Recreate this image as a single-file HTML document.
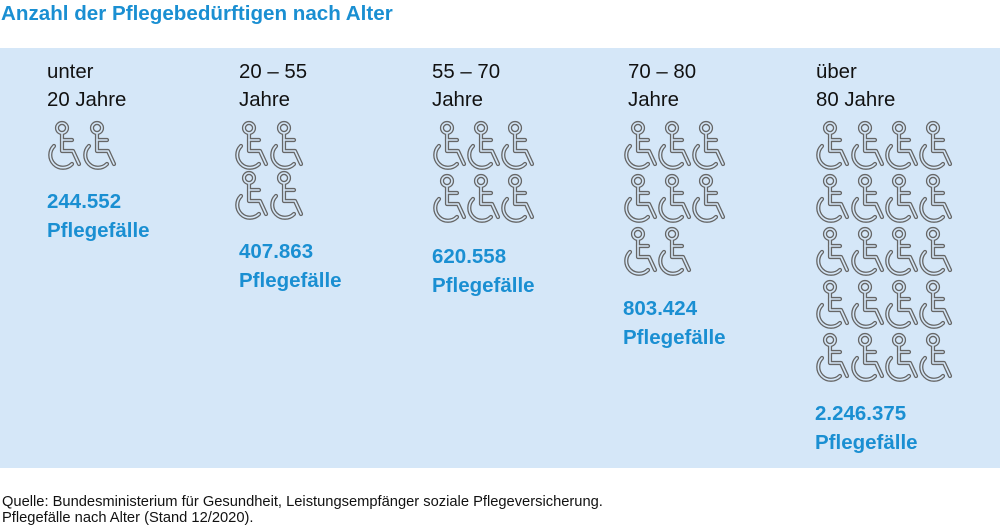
<!DOCTYPE html>
<html><head><meta charset="utf-8"><style>
body{margin:0;width:1000px;height:526px;background:#fff;font-family:"Liberation Sans",Arial,sans-serif;position:relative;overflow:hidden}
.t{position:absolute;left:1px;top:2px;font-size:20.6px;font-weight:bold;color:#1a8fd2}
.p{position:absolute;left:0;top:48px;width:1000px;height:420px;background:#d5e7f8}
.l{position:absolute;font-size:20.4px;line-height:28px;color:#111}
.n{position:absolute;font-size:20.5px;line-height:29px;font-weight:bold;color:#1a8fd2}
.f{position:absolute;left:2px;top:494px;font-size:14.7px;line-height:16px;color:#111}
svg{position:absolute;left:0;top:0}
</style></head><body>
<div class="t">Anzahl der Pflegebedürftigen nach Alter</div>
<div class="p"></div>
<svg width="1000" height="526">
<defs>
<g id="i">
 <g fill="none" stroke="#666" stroke-width="4.2" stroke-linecap="round" stroke-linejoin="round">
  <circle cx="15" cy="6" r="5"/>
  <path d="M15 12 V29 H26 L32 42"/>
  <path d="M15 18 H25"/>
  <path d="M7 24 A12.5 12.5 0 1 0 25 42"/>
 </g>
 <g fill="none" stroke="#d5e7f8" stroke-width="1.6" stroke-linecap="round" stroke-linejoin="round">
  <circle cx="15" cy="6" r="5"/>
  <path d="M15 12 V29 H26 L32 42"/>
  <path d="M15 18 H25"/>
  <path d="M7 24 A12.5 12.5 0 1 0 25 42"/>
 </g>
</g>
</defs>
<use href="#i" x="47" y="122"/><use href="#i" x="82" y="122"/>
<use href="#i" x="234" y="122"/><use href="#i" x="269" y="122"/>
<use href="#i" x="234" y="172"/><use href="#i" x="269" y="172"/>
<use href="#i" x="432" y="122"/><use href="#i" x="466" y="122"/><use href="#i" x="500" y="122"/>
<use href="#i" x="432" y="175"/><use href="#i" x="466" y="175"/><use href="#i" x="500" y="175"/>
<use href="#i" x="623" y="122"/><use href="#i" x="657" y="122"/><use href="#i" x="691" y="122"/>
<use href="#i" x="623" y="175"/><use href="#i" x="657" y="175"/><use href="#i" x="691" y="175"/>
<use href="#i" x="623" y="228"/><use href="#i" x="657" y="228"/>
<use href="#i" x="815" y="122"/><use href="#i" x="850" y="122"/><use href="#i" x="884" y="122"/><use href="#i" x="918" y="122"/>
<use href="#i" x="815" y="175"/><use href="#i" x="850" y="175"/><use href="#i" x="884" y="175"/><use href="#i" x="918" y="175"/>
<use href="#i" x="815" y="228"/><use href="#i" x="850" y="228"/><use href="#i" x="884" y="228"/><use href="#i" x="918" y="228"/>
<use href="#i" x="815" y="281"/><use href="#i" x="850" y="281"/><use href="#i" x="884" y="281"/><use href="#i" x="918" y="281"/>
<use href="#i" x="815" y="334"/><use href="#i" x="850" y="334"/><use href="#i" x="884" y="334"/><use href="#i" x="918" y="334"/>
</svg>
<div class="l" style="left:47px;top:58px">unter<br>20 Jahre</div>
<div class="l" style="left:239px;top:58px">20 – 55<br>Jahre</div>
<div class="l" style="left:432px;top:58px">55 – 70<br>Jahre</div>
<div class="l" style="left:628px;top:58px">70 – 80<br>Jahre</div>
<div class="l" style="left:816px;top:58px">über<br>80 Jahre</div>
<div class="n" style="left:47px;top:187px">244.552<br>Pflegefälle</div>
<div class="n" style="left:239px;top:237px">407.863<br>Pflegefälle</div>
<div class="n" style="left:432px;top:242px">620.558<br>Pflegefälle</div>
<div class="n" style="left:623px;top:294px">803.424<br>Pflegefälle</div>
<div class="n" style="left:815px;top:399px">2.246.375<br>Pflegefälle</div>
<div class="f">Quelle: Bundesministerium für Gesundheit, Leistungsempfänger soziale Pflegeversicherung.<br>Pflegefälle nach Alter (Stand 12/2020).</div>
</body></html>
